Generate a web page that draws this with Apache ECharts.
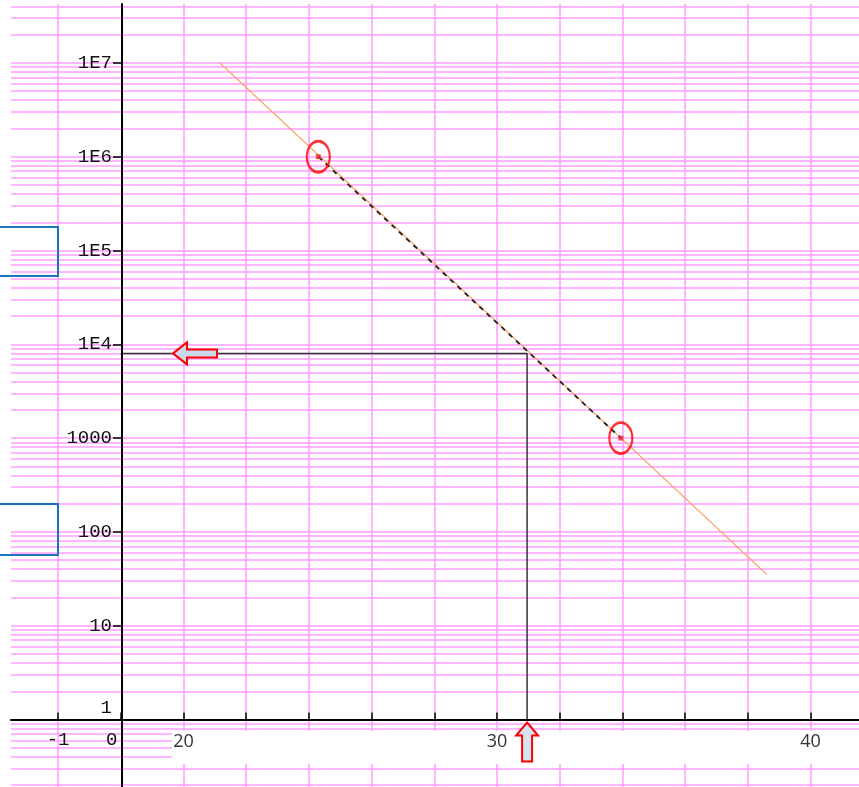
<!DOCTYPE html>
<html><head><meta charset="utf-8">
<script src="https://cdn.jsdelivr.net/npm/echarts@6/dist/echarts.min.js"></script>
<style>html,body{margin:0;padding:0;background:#fff}#c{width:859px;height:787px}</style>
</head><body><div id="c"></div>
<script>
// ---- data ----
const xTickValues = [16,18,20,22,24,26,28,30,32,34,36,38,40];
const xGridValues = [16,20,22,24,26,28,30,32,34,36,38,40];
const xLabelValues = [16,18,20,30,40];
const xLabelTexts = ['-1','0','20','30','40'];
const yTickValues = [1,10,100,1000,1e4,1e5,1e6,1e7];
const yTickLabels = ['1','10','100','1000','1E4','1E5','1E6','1E7'];
const yMinorMultipliers = [1,2,3,4,5,6,7,8,9];
const yDecades = [-1,0,1,2,3,4,5,6,7];
const fitLineX = [21.16, 38.61];
const fitLineY = [1e7, 35];
const pointsX = [24.3, 33.95];
const pointsY = [1e6, 1000];
const readX = 30.96;
const readY = 8000;
const yAxisAtX = 18;   // x value where the vertical axis sits
const xAxisAtY = 1;    // y value where the horizontal axis sits

const X_MIN = 14.498, X_MAX = 41.547, Y_MIN = 0.1907, Y_MAX = 4.245e7;

const minorVals = [];
yDecades.forEach(d => yMinorMultipliers.forEach(m => {
  const v = +(m * Math.pow(10, d)).toPrecision(6);
  if (v >= Y_MIN && v <= Y_MAX && v !== xAxisAtY) minorVals.push(v);
}));

const PINK = '#ff9cff';
const MONO = 'Liberation Mono';

function xLabel(v) {
  for (let i = 0; i < xLabelValues.length; i++) {
    if (Math.abs(v - xLabelValues[i]) < 1e-6) {
      const t = xLabelTexts[i];
      if (i === 0) return '{m|' + t + '}';
      if (i === 1) return '{z|' + t + '}';
      return '{s|' + t + '}';
    }
  }
  return '';
}
function yLabel(v) {
  const i = yTickValues.findIndex(t => Math.abs(Math.log10(t) - Math.log10(v)) < 1e-6);
  if (i < 0) return '';
  if (i === 0) return '{one|' + yTickLabels[i] + '}';
  return yTickLabels[i];
}

const chart = echarts.init(document.getElementById('c'));
chart.setOption({
  animation: false,
  backgroundColor: '#fff',
  grid: { left: 11, right: 0, top: 4, bottom: 0, containLabel: false },
  xAxis: [
    { type: 'value', min: X_MIN, max: X_MAX, position: 'bottom', z: 0,
      axisLine: { show: false }, axisLabel: { show: false },
      axisTick: { show: false, customValues: xGridValues },
      splitLine: { show: true, lineStyle: { color: PINK, width: 1.5 } } },
    { type: 'value', min: X_MIN, max: X_MAX, position: 'bottom', offset: -67.5, z: 5,
      axisLine: { show: true, lineStyle: { color: '#000', width: 2 } },
      axisTick: { show: true, inside: true, length: 7, customValues: xTickValues,
                  lineStyle: { color: '#000', width: 1.5 } },
      splitLine: { show: false },
      axisLabel: { show: true, customValues: xLabelValues, margin: 10, formatter: xLabel,
        rich: {
          m: { fontFamily: MONO, fontSize: 19, color: '#111', lineHeight: 20 },
          z: { fontFamily: MONO, fontSize: 19, color: '#111', lineHeight: 20, padding: [0, 18, 0, 0] },
          s: { fontFamily: 'Open Sans', fontSize: 18, color: '#333', lineHeight: 20, padding: [5, 0, 0, 0] }
        } } }
  ],
  yAxis: [
    { type: 'log', logBase: 10, min: Y_MIN, max: Y_MAX, position: 'left', z: 0,
      axisLine: { show: false }, axisLabel: { show: false },
      axisTick: { show: false, customValues: minorVals },
      splitLine: { show: true, lineStyle: { color: PINK, width: 1.5 } } },
    { type: 'log', logBase: 10, min: Y_MIN, max: Y_MAX, position: 'left', offset: -111, z: 5,
      axisLine: { show: true, lineStyle: { color: '#000', width: 2 } },
      axisTick: { show: true, length: 9, customValues: yTickValues, lineStyle: { color: '#000', width: 1.5 } },
      splitLine: { show: false },
      axisLabel: { show: true, customValues: yTickValues, margin: 10, formatter: yLabel,
        fontFamily: MONO, fontSize: 19, color: '#111',
        rich: { one: { fontFamily: MONO, fontSize: 19, color: '#111', padding: [0, 0, 24, 0] } } } }
  ],
  series: [
    { type: 'line', name: 'fit', xAxisIndex: 0, yAxisIndex: 0, z: 3,
      data: fitLineX.map((x, i) => [x, fitLineY[i]]), showSymbol: false, symbol: 'none',
      lineStyle: { color: '#ff9955', width: 1.2 } },
    { type: 'line', name: 'segment', xAxisIndex: 0, yAxisIndex: 0, z: 4,
      data: pointsX.map((x, i) => [x, pointsY[i]]), showSymbol: false, symbol: 'none',
      lineStyle: { color: '#222', width: 1.8, type: [5, 5] } },
    { type: 'line', name: 'read', xAxisIndex: 0, yAxisIndex: 0, z: 3,
      data: [[yAxisAtX, readY], [readX, readY], [readX, xAxisAtY]], showSymbol: false, symbol: 'none',
      lineStyle: { color: '#333', width: 1.5 } },
    { type: 'scatter', name: 'points', xAxisIndex: 0, yAxisIndex: 0, z: 6,
      data: pointsX.map((x, i) => [x, pointsY[i]]), symbol: 'rect', symbolSize: 5,
      itemStyle: { color: '#e4262b' } },
    { type: 'scatter', name: 'rings', xAxisIndex: 0, yAxisIndex: 0, z: 6,
      data: pointsX.map((x, i) => [x, pointsY[i]]), symbol: 'circle', symbolSize: [23, 31],
      itemStyle: { color: 'rgba(0,0,0,0)', borderColor: '#ff0000', borderWidth: 2.5 } }
  ]
});

const rp = chart.convertToPixel({ xAxisIndex: 0, yAxisIndex: 0 }, [readX, readY]);
const axisYpx = chart.convertToPixel({ yAxisIndex: 0 }, xAxisAtY);
const ax = 173, ay = rp[1];
const ux = rp[0], uy = axisYpx + 3;
chart.setOption({
  graphic: [
    { type: 'rect', z: 1, silent: true, shape: { x: 172, y: 731, width: 700, height: 33 },
      style: { fill: '#ffffff' } },
    { type: 'rect', z: 10, shape: { x: -3, y: 227, width: 61, height: 49 },
      style: { fill: 'none', stroke: '#1b75bc', lineWidth: 2 } },
    { type: 'rect', z: 10, shape: { x: -3, y: 504, width: 61, height: 51 },
      style: { fill: 'none', stroke: '#1b75bc', lineWidth: 2 } },
    { type: 'polygon', z: 10, shape: { points: [
        [ax, ay], [ax + 14, ay - 11], [ax + 14, ay - 4], [ax + 44, ay - 4],
        [ax + 44, ay + 4], [ax + 14, ay + 4], [ax + 14, ay + 11]] },
      style: { fill: '#c9d9ea', stroke: '#ff0000', lineWidth: 2 } },
    { type: 'polygon', z: 10, shape: { points: [
        [ux, uy], [ux + 11, uy + 13], [ux + 5, uy + 13], [ux + 5, uy + 39],
        [ux - 5, uy + 39], [ux - 5, uy + 13], [ux - 11, uy + 13]] },
      style: { fill: '#d6e4f2', stroke: '#ff0000', lineWidth: 2 } }
  ]
});
</script>
</body></html>
